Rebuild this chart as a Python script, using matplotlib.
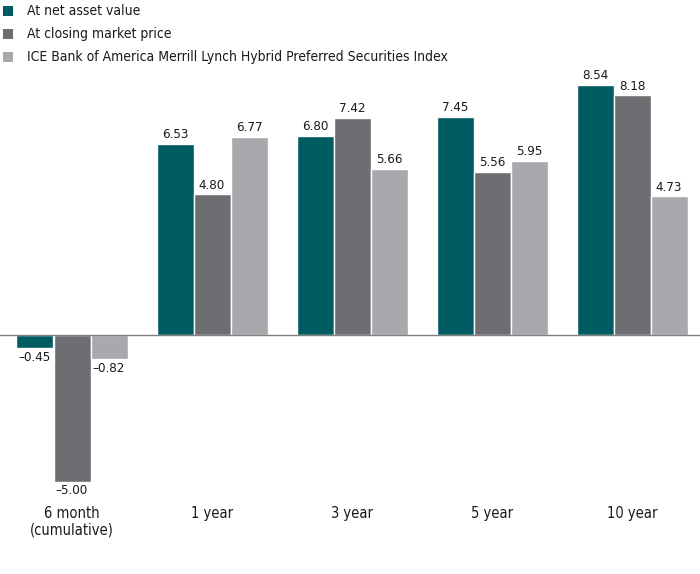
import matplotlib
matplotlib.use("Agg")
import matplotlib.pyplot as plt
from matplotlib.patches import Rectangle
import numpy as np

plt.rcParams['font.family'] = ['DejaVu Sans']
plt.rcParams['font.stretch'] = 'condensed'

categories = ["6 month\n(cumulative)", "1 year", "3 year", "5 year", "10 year"]
series_names = ["At net asset value", "At closing market price",
                "ICE Bank of America Merrill Lynch Hybrid Preferred Securities Index"]
nav = [-0.45, 6.53, 6.80, 7.45, 8.54]
market = [-5.00, 4.80, 7.42, 5.56, 8.18]
index_vals = [-0.82, 6.77, 5.66, 5.95, 4.73]
colors = ["#005c63", "#6d6e71", "#a7a9ac"]

W, H = 700, 574
fig = plt.figure(figsize=(W / 100, H / 100), dpi=100)
ax_top, ax_bot = 75, 500
ax = fig.add_axes([0, (H - ax_bot) / H, 1, (ax_bot - ax_top) / H])

px_per_unit = 29.3
zero_px = 335
ax.set_xlim(-72 / 140, (700 - 72) / 140)
ax.set_ylim(-(ax_bot - zero_px) / px_per_unit, (zero_px - ax_top) / px_per_unit)

x = np.arange(len(categories))
bw = 37 / 140
for i, (vals, c) in enumerate(zip([nav, market, index_vals], colors)):
    xs = x + (i - 1) * bw
    ax.bar(xs, vals, width=bw, color=c, edgecolor="white", linewidth=1.0, zorder=2)
    for xi, v in zip(xs, vals):
        lab = f"{v:.2f}".replace("-", "\u2013")
        if v >= 0:
            ax.annotate(lab, (xi, v), xytext=(0, 2), textcoords="offset points",
                        ha="center", va="bottom", fontsize=9.5, color="#1a1a1a")
        else:
            ax.annotate(lab, (xi, v), xytext=(0, -2), textcoords="offset points",
                        ha="center", va="top", fontsize=9.5, color="#1a1a1a")

ax.axhline(0, color="#808080", linewidth=1.0, zorder=3)

ax.set_xticks(x)
ax.set_xticklabels(categories, fontsize=10.5, color="#1a1a1a", linespacing=1.15)
ax.tick_params(axis="x", length=0, pad=4)
ax.set_yticks([])
for s in ax.spines.values():
    s.set_visible(False)

# legend
rows = [11, 34, 57]
for name, c, yc in zip(series_names, colors, rows):
    fig.patches.append(Rectangle((3 / W, (H - yc - 5) / H), 10 / W, 10 / H,
                                 transform=fig.transFigure, facecolor=c, edgecolor="none"))
    fig.text(27 / W, (H - yc) / H, name, fontsize=10, va="center", ha="left", color="#1a1a1a")

fig.savefig("out.png", dpi=100)
